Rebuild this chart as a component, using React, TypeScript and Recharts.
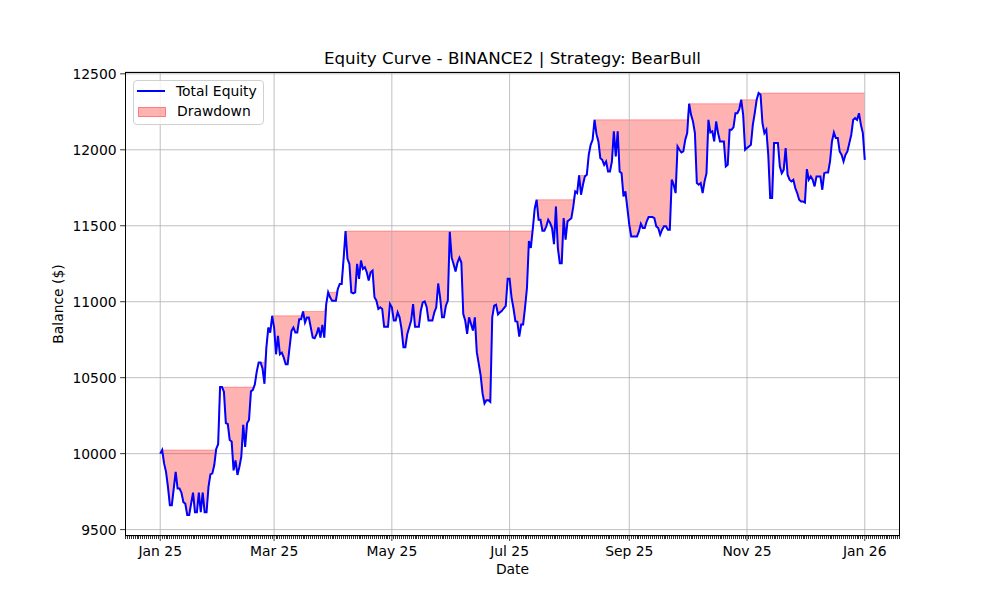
import React from 'react';
import { ComposedChart, Line, Area, XAxis, YAxis, CartesianGrid, ReferenceLine } from 'recharts';

// daily closing balance, one array per month (Jan 1 2025 = day 0)
const jan = [10000, 10024, 9936, 9880, 9781, 9660, 9660, 9770, 9880, 9770, 9770, 9743, 9681, 9670, 9597, 9597, 9670, 9743, 9615, 9615, 9743, 9615, 9743, 9615, 9615, 9781, 9863, 9870, 9925, 10031, 10062];
const feb = [10438, 10438, 10407, 10201, 10195, 10090, 10080, 9890, 9956, 9860, 9912, 9980, 10190, 10045, 10200, 10222, 10410, 10420, 10455, 10540, 10600, 10600, 10560, 10460, 10700, 10830, 10797, 10907];
const mar = [10830, 10654, 10775, 10654, 10665, 10632, 10588, 10588, 10698, 10808, 10830, 10797, 10797, 10885, 10885, 10936, 10863, 10896, 10896, 10830, 10764, 10760, 10786, 10830, 10764, 10848, 10764, 10985, 11062, 11029, 11007];
const apr = [11007, 11007, 11084, 11117, 11117, 11282, 11465, 11282, 11249, 11062, 11055, 11062, 11249, 11150, 11271, 11216, 11227, 11194, 11139, 11194, 11205, 11029, 11007, 10952, 10963, 10952, 10835, 10835, 10835, 10985];
const may = [10963, 10876, 10876, 10930, 10897, 10821, 10701, 10701, 10788, 10832, 10876, 10985, 10836, 10836, 10836, 10941, 10996, 11002, 10967, 10876, 10876, 10876, 10930, 10963, 11120, 11028, 10897, 10897, 10974, 11007, 11460];
const jun = [11290, 11247, 11199, 11258, 11290, 11258, 10919, 10876, 10788, 10897, 10854, 10810, 10897, 10668, 10592, 10515, 10395, 10330, 10352, 10352, 10341, 10897, 10974, 10980, 10917, 10930, 10940, 10957, 10973, 11152];
const jul = [11152, 11029, 10957, 10872, 10868, 10771, 10850, 10850, 10962, 11092, 11399, 11354, 11478, 11612, 11671, 11539, 11539, 11467, 11467, 11496, 11539, 11518, 11485, 11379, 11627, 11353, 11254, 11254, 11550, 11408, 11529];
const aug = [11539, 11550, 11627, 11726, 11715, 11831, 11704, 11770, 11825, 11836, 11967, 12033, 12066, 12197, 12103, 12055, 11945, 11934, 11901, 11923, 11857, 11857, 11923, 12121, 11956, 12121, 11857, 11846, 11693, 11726, 11616];
const sep = [11507, 11430, 11430, 11430, 11430, 11463, 11513, 11485, 11485, 11528, 11557, 11557, 11557, 11550, 11496, 11485, 11441, 11474, 11496, 11496, 11474, 11474, 11803, 11770, 11715, 12022, 12000, 11982, 11989, 12066];
const oct = [12110, 12303, 12230, 12186, 12110, 11781, 11770, 11781, 11715, 11792, 11846, 12197, 12114, 12121, 12055, 12186, 12110, 12055, 12055, 12055, 11890, 11901, 12132, 12132, 12149, 12241, 12241, 12268, 12329, 12230, 12000];
const nov = [12011, 12022, 12033, 12164, 12241, 12329, 12373, 12362, 12175, 12110, 12132, 11967, 11682, 11682, 12044, 12044, 12044, 11890, 11846, 11868, 12011, 11836, 11803, 11792, 11803, 11748, 11715, 11671, 11660, 11660];
const dec = [11653, 11873, 11803, 11825, 11803, 11759, 11825, 11825, 11825, 11737, 11846, 11851, 11851, 11923, 12055, 12114, 12077, 12077, 11989, 11967, 11923, 11967, 11989, 12044, 12099, 12197, 12208, 12197, 12241, 12164, 12110];
const jan26 = [11934];

const xTicks = [0, 59, 120, 181, 243, 304, 365];
const xTickLabels = ['Jan 25', 'Mar 25', 'May 25', 'Jul 25', 'Sep 25', 'Nov 25', 'Jan 26'];
const yTicks = [9500, 10000, 10500, 11000, 11500, 12000, 12500];

const equity = [...jan, ...feb, ...mar, ...apr, ...may, ...jun, ...jul, ...aug, ...sep, ...oct, ...nov, ...dec, ...jan26];

let runMax = -Infinity;
const rows = equity.map((v, i) => {
  runMax = Math.max(runMax, v);
  return { day: i, equity: v, drawdown: [v, runMax] };
});

// matplotlib-like 5% margins
const xDomain = [-18.25, 383.25];
const yDomain = [9458, 12512];

// daily minor ticks across the view
const dayTicks = Array.from({ length: 402 }, (_, i) => i - 18);

const DateTick = (props: any) => {
  const { x, y, payload } = props;
  const idx = xTicks.indexOf(payload.value);
  if (idx < 0) {
    return <line x1={x} x2={x} y1={y} y2={y + 3} stroke="#000" strokeWidth={0.8} shapeRendering="crispEdges" />;
  }
  return (
    <g>
      <line x1={x} x2={x} y1={y} y2={y + 4.9} stroke="#000" strokeWidth={0.8} />
      <text x={x} y={y + 19.5} textAnchor="middle" fontSize={13.9} fill="#000" fontFamily="DejaVu Sans">
        {xTickLabels[idx]}
      </text>
    </g>
  );
};

const abs = (s: React.CSSProperties): React.CSSProperties => ({ position: 'absolute', pointerEvents: 'none', ...s });

export default function App() {
  return (
    <div style={{ position: 'absolute', left: 0, top: 0, width: 1000, height: 600, background: '#fff', fontFamily: 'DejaVu Sans', color: '#000' }}>
      <ComposedChart width={1000} height={600} data={rows} margin={{ top: 72, right: 100, bottom: 24, left: 65 }}>
        <CartesianGrid vertical={false} stroke="#b0b0b0" strokeWidth={0.8} />
        <XAxis
          dataKey="day"
          type="number"
          domain={xDomain}
          ticks={dayTicks}
          interval={0}
          tick={<DateTick />}
          tickSize={0}
          tickMargin={0}
          tickLine={false}
          axisLine={false}
          height={40}
          allowDataOverflow
        />
        <YAxis
          type="number"
          domain={yDomain}
          ticks={yTicks}
          interval={0}
          width={60}
          tickSize={4.9}
          tickMargin={3.5}
          axisLine={false}
          tickLine={{ stroke: '#000', strokeWidth: 0.8 }}
          tick={{ fill: '#000', fontSize: 13.9, fontFamily: 'DejaVu Sans' }}
          allowDataOverflow
        />
        {xTicks.map((t) => (
          <ReferenceLine key={t} x={t} stroke="#b0b0b0" strokeWidth={0.8} />
        ))}
        <Area
          type="linear"
          dataKey="drawdown"
          fill="#ff0000"
          fillOpacity={0.3}
          stroke="#ff0000"
          strokeOpacity={0.3}
          strokeWidth={1}
          isAnimationActive={false}
        />
        <Line type="linear" dataKey="equity" stroke="#0000ff" strokeWidth={2} dot={false} isAnimationActive={false} />
      </ComposedChart>

      {/* axes frame */}
      <div style={abs({ left: 124.6, top: 71.6, width: 775.8, height: 464.8, border: '0.8px solid #000', boxSizing: 'border-box' })} />

      {/* title and axis labels */}
      <div style={abs({ left: 125, top: 47, width: 775, textAlign: 'center', fontSize: 16.7, lineHeight: '22px' })}>
        Equity Curve - BINANCE2 | Strategy: BearBull
      </div>
      <div style={abs({ left: 125, top: 560, width: 775, textAlign: 'center', fontSize: 13.9, lineHeight: '18px' })}>Date</div>
      <div style={abs({ left: 58, top: 304, transform: 'translate(-50%, -50%) rotate(-90deg)', whiteSpace: 'nowrap', fontSize: 13.9, lineHeight: '18px' })}>
        Balance ($)
      </div>

      {/* legend */}
      <div style={abs({ left: 132.5, top: 79.5, width: 131, height: 45.5, border: '1px solid #d0d0d0', borderRadius: 4, background: 'rgba(255,255,255,0.8)', boxSizing: 'border-box' })} />
      <div style={abs({ left: 137, top: 89.7, width: 28, height: 2, background: '#0000ff' })} />
      <div style={abs({ left: 176, top: 81.5, fontSize: 13.9, lineHeight: '18px', whiteSpace: 'nowrap' })}>Total Equity</div>
      <div style={abs({ left: 137.5, top: 106.5, width: 28, height: 10, background: 'rgba(255,0,0,0.3)', border: '1px solid rgba(255,0,0,0.3)', boxSizing: 'border-box' })} />
      <div style={abs({ left: 177, top: 102, fontSize: 13.9, lineHeight: '18px', whiteSpace: 'nowrap' })}>Drawdown</div>
    </div>
  );
}
